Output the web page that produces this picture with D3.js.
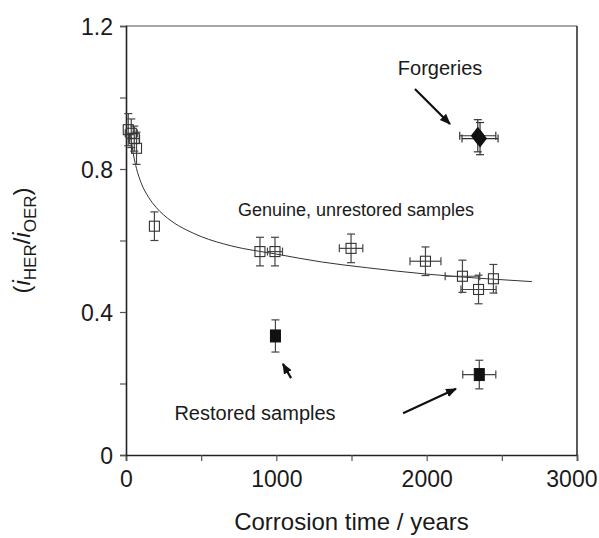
<!DOCTYPE html>
<html><head><meta charset="utf-8">
<script src="https://cdn.jsdelivr.net/npm/d3@7/dist/d3.min.js"></script>
<style>body{margin:0;background:#fff;} text{font-family:"Liberation Sans",Arial,sans-serif;fill:#1a1a1a;}</style>
</head><body>
<svg id="c" width="599" height="538"></svg>
<script>
// Genuine, unrestored samples (open squares)
const genX    = [15, 35, 55, 70, 189, 891, 991, 1497, 1992, 2238, 2345, 2444];
const genY    = [0.91, 0.90, 0.885, 0.858, 0.64, 0.569, 0.569, 0.578, 0.542, 0.50, 0.463, 0.493];
const genXErr = [0, 40, 35, 0, 0, 0, 50, 78, 103, 115, 117, 0];
const genYErr = [0.045, 0.04, 0.035, 0.045, 0.04, 0.04, 0.04, 0.04, 0.04, 0.045, 0.04, 0.04];
// Forgeries (filled diamonds)
const forX    = [2340, 2355];
const forY    = [0.893, 0.885];
const forXErr = [120, 120];
const forYErr = [0.045, 0.045];
// Restored samples (filled squares)
const resX    = [994, 2350];
const resY    = [0.333, 0.225];
const resXErr = [30, 110];
const resYErr = [0.045, 0.04];
// Fitted trend curve
const fitX = [30, 50, 70, 100, 150, 200, 300, 400, 500, 700, 1000, 1300, 1600, 2000, 2400, 2700];
const fitY = [0.895, 0.839, 0.801, 0.762, 0.721, 0.693, 0.655, 0.630, 0.611, 0.585, 0.562, 0.540, 0.524, 0.506, 0.493, 0.485];
// Axis ticks
const xTicks = [0, 500, 1000, 1500, 2000, 2500, 3000];
const xLabels = [0, 1000, 2000, 3000];
const yTicks = [0, 0.2, 0.4, 0.6, 0.8, 1.0, 1.2];
const yLabels = [0, 0.4, 0.8, 1.2];

const svg = d3.select("#c");
const x = d3.scaleLinear().domain([0, 3000]).range([126, 577]);
const y = d3.scaleLinear().domain([0, 1.2]).range([455, 26]);

// frame
svg.append("line").attr("x1", x(0)).attr("x2", x(3000)).attr("y1", y(1.2)).attr("y2", y(1.2)).attr("stroke", "#888").attr("stroke-width", 1.6);
svg.append("line").attr("x1", x(3000)).attr("x2", x(3000)).attr("y1", y(1.2)).attr("y2", y(0)).attr("stroke", "#333").attr("stroke-width", 1.6);

const xAxis = svg.append("g").attr("transform", `translate(0,${y(0)})`)
  .call(d3.axisBottom(x).tickValues(xTicks).tickSize(6).tickFormat(d => xLabels.includes(d) ? d : ""));
const yAxis = svg.append("g").attr("transform", `translate(${x(0)},0)`)
  .call(d3.axisLeft(y).tickValues(yTicks).tickSize(6).tickFormat(d => yLabels.some(v => Math.abs(v - d) < 1e-9) ? (d === 0 ? "0" : d3.format(".1f")(d)) : ""));
[xAxis, yAxis].forEach(g => {
  g.select(".domain").attr("stroke", "#222").attr("stroke-width", 1.6);
  g.selectAll(".tick line").attr("stroke", "#555").attr("stroke-width", 1.2);
  g.selectAll(".tick text").attr("font-size", 23).attr("fill", "#1a1a1a").attr("font-family", "Liberation Sans, Arial, sans-serif");
});
xAxis.selectAll(".tick text").attr("dy", "1.0em");
xAxis.selectAll(".tick").filter(d => d === 3000).select("text").attr("text-anchor", "end").attr("x", 597 - x(3000));
yAxis.selectAll(".tick text").attr("x", -13).attr("dy", "0.35em");

// fit curve
svg.append("path").datum(fitX.map((d, i) => [d, fitY[i]]))
  .attr("d", d3.line().x(d => x(d[0])).y(d => y(d[1])).curve(d3.curveMonotoneX))
  .attr("fill", "none").attr("stroke", "#333").attr("stroke-width", 1);

function errBars(xs, ys, xe, ye, color) {
  const g = svg.append("g").attr("stroke", color).attr("stroke-width", 1.2).attr("fill", "none");
  xs.forEach((xv, i) => {
    const cx = x(xv), cy = y(ys[i]);
    if (ye[i] > 0) {
      const y1 = y(ys[i] + ye[i]), y2 = y(ys[i] - ye[i]);
      g.append("line").attr("x1", cx).attr("x2", cx).attr("y1", y1).attr("y2", y2);
      g.append("line").attr("x1", cx - 4).attr("x2", cx + 4).attr("y1", y1).attr("y2", y1);
      g.append("line").attr("x1", cx - 4).attr("x2", cx + 4).attr("y1", y2).attr("y2", y2);
    }
    if (xe[i] > 0) {
      const x1 = x(xv - xe[i]), x2 = x(xv + xe[i]);
      g.append("line").attr("x1", x1).attr("x2", x2).attr("y1", cy).attr("y2", cy);
      g.append("line").attr("x1", x1).attr("x2", x1).attr("y1", cy - 4).attr("y2", cy + 4);
      g.append("line").attr("x1", x2).attr("x2", x2).attr("y1", cy - 4).attr("y2", cy + 4);
    }
  });
}
errBars(genX, genY, genXErr, genYErr, "#444");
errBars(forX, forY, forXErr, forYErr, "#333");
errBars(resX, resY, resXErr, resYErr, "#444");

// open squares
svg.append("g").selectAll("rect").data(genX).join("rect")
  .attr("x", (d) => x(d) - 5).attr("y", (d, i) => y(genY[i]) - 5)
  .attr("width", 10).attr("height", 10)
  .attr("fill", "none").attr("stroke", "#333").attr("stroke-width", 1.1);
// filled squares
svg.append("g").selectAll("rect").data(resX).join("rect")
  .attr("x", (d) => x(d) - 5).attr("y", (d, i) => y(resY[i]) - 6)
  .attr("width", 10).attr("height", 12)
  .attr("fill", "#111").attr("stroke", "#111");
// diamonds
svg.append("g").selectAll("path").data(forX).join("path")
  .attr("d", (d, i) => { const cx = x(d), cy = y(forY[i]); return `M${cx},${cy-9}L${cx+7},${cy}L${cx},${cy+9}L${cx-7},${cy}Z`; })
  .attr("fill", "#111");

// arrows
const defs = svg.append("defs");
defs.append("marker").attr("id", "ah").attr("viewBox", "0 0 10 10").attr("refX", 9).attr("refY", 5)
  .attr("markerWidth", 5).attr("markerHeight", 5).attr("orient", "auto")
  .append("path").attr("d", "M0,1L10,5L0,9Z").attr("fill", "#111");
const arrows = [
  [1922, 1.024, 2155, 0.926],
  [1843, 0.117, 2195, 0.185],
  [1098, 0.215, 1044, 0.255]
];
arrows.forEach(a => {
  svg.append("line").attr("x1", x(a[0])).attr("y1", y(a[1])).attr("x2", x(a[2])).attr("y2", y(a[3]))
    .attr("stroke", "#111").attr("stroke-width", 2.2).attr("marker-end", "url(#ah)");
});

// annotations
const notes = [
  ["Forgeries", 2089, 1.062, 20],
  ["Genuine, unrestored samples", 1530, 0.669, 18],
  ["Restored samples", 858, 0.098, 20]
];
notes.forEach(n => {
  svg.append("text").attr("x", x(n[1])).attr("y", y(n[2])).attr("text-anchor", "middle").attr("font-size", n[3]).text(n[0]);
});

// axis titles
svg.append("text").attr("x", x(1500)).attr("y", 530).attr("text-anchor", "middle").attr("font-size", 24).text("Corrosion time / years");
const yl = svg.append("text").attr("transform", `translate(30,${y(0.6)}) rotate(-90)`).attr("text-anchor", "middle").attr("font-size", 24);
yl.append("tspan").text("(");
yl.append("tspan").attr("font-style", "italic").text("i");
yl.append("tspan").attr("font-size", 17).attr("dy", 6).text("HER");
yl.append("tspan").attr("dy", -6).text("/");
yl.append("tspan").attr("font-style", "italic").text("i");
yl.append("tspan").attr("font-size", 17).attr("dy", 6).text("OER");
yl.append("tspan").attr("dy", -6).text(")");
</script>
</body></html>
